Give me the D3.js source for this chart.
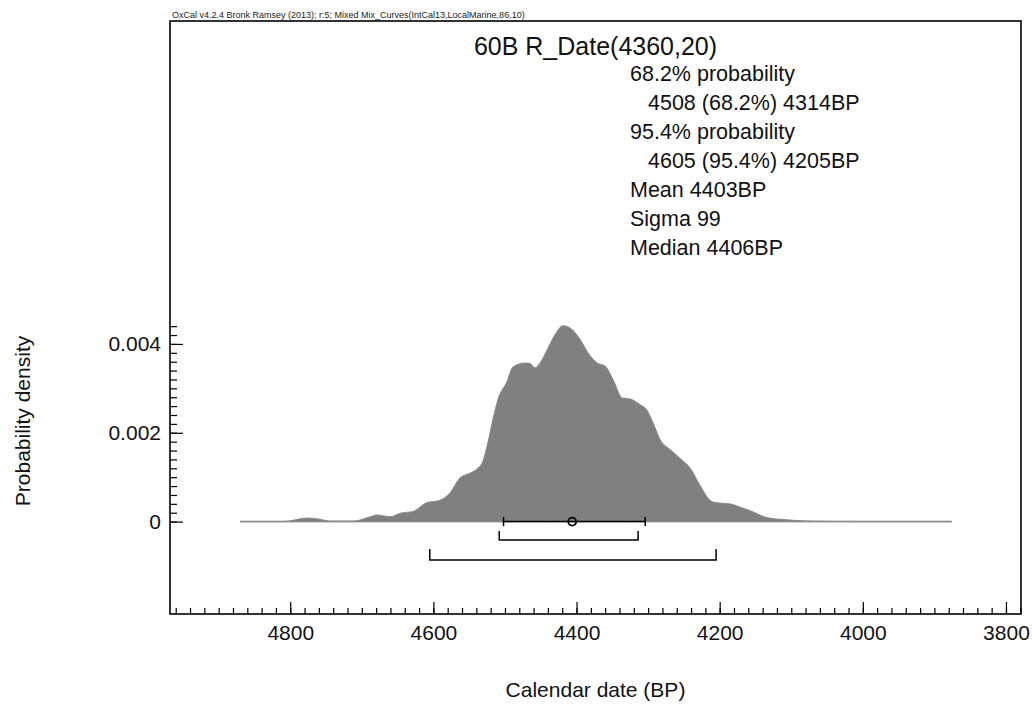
<!DOCTYPE html>
<html>
<head>
<meta charset="utf-8">
<script src="https://cdn.jsdelivr.net/npm/d3@7"></script>
<style>
  html, body { margin: 0; padding: 0; background: #fff; }
  svg { display: block; font-family: "Liberation Sans", Arial, Helvetica, sans-serif; }
</style>
</head>
<body>
<svg id="chart" width="1032" height="707"></svg>
<script>
// ---------- data ----------
const years = [4870, 4810, 4776, 4761, 4744, 4712, 4688, 4679, 4660, 4646, 4628, 4609, 4593, 4577, 4563, 4549, 4538, 4531, 4524, 4517, 4510, 4497, 4489, 4472, 4465, 4458, 4451, 4441, 4430, 4419, 4409, 4395, 4384, 4371, 4360, 4349, 4336, 4325, 4311, 4302, 4293, 4283, 4269, 4253, 4241, 4228, 4214, 4207, 4186, 4167, 4158, 4134, 4106, 4070, 4000, 3876];
const density = [0, 0, 0.00008, 0.00006, 0.00001, 0.00001, 0.00011, 0.00015, 0.00011, 0.00019, 0.00023, 0.00043, 0.00047, 0.00064, 0.00098, 0.00109, 0.00120, 0.00135, 0.00177, 0.00229, 0.00274, 0.00316, 0.00348, 0.00357, 0.00356, 0.00346, 0.00357, 0.00387, 0.00421, 0.00441, 0.00436, 0.00410, 0.00380, 0.00357, 0.00350, 0.00320, 0.00278, 0.00276, 0.00263, 0.00252, 0.00222, 0.00184, 0.00162, 0.00139, 0.00120, 0.00083, 0.00049, 0.00043, 0.00040, 0.00030, 0.00025, 0.00009, 0.00004, 0.00001, 0, 0];

const range68 = [4508, 4314];
const range95 = [4605, 4205];
const meanBP = 4403;
const sigma = 99;
const medianBP = 4406;

const xMajorTicks = [4800, 4600, 4400, 4200, 4000, 3800];
const yMajorTicks = [0, 0.002, 0.004];
const yTickLabels = ["0", "0.002", "0.004"];

const headerText = "OxCal v4.2.4 Bronk Ramsey (2013); r:5; Mixed Mix_Curves(IntCal13,LocalMarine,86,10)";
const titleText = "60B R_Date(4360,20)";
const statLines = ["68.2% probability", "4508 (68.2%) 4314BP", "95.4% probability", "4605 (95.4%) 4205BP", "Mean 4403BP", "Sigma 99", "Median 4406BP"];
const statIndent = [false, true, false, true, false, false, false];
const xLabel = "Calendar date (BP)";
const yLabel = "Probability density";

// ---------- layout ----------
const L = 170, R = 1021, T = 21, B = 614;
const FS = 21;
const svg = d3.select("#chart");

const x = d3.scaleLinear().domain([4968, 3779]).range([L, R]);
const y = d3.scaleLinear().domain([-0.00208, 0.01127]).range([B, T]);

const pts = years.map((yr, i) => ({ yr, d: density[i] }));

// baseline of the distribution
svg.append("line")
  .attr("x1", x(years[0])).attr("x2", x(years[years.length - 1]))
  .attr("y1", y(0)).attr("y2", y(0))
  .attr("stroke", "#6e6e6e").attr("stroke-width", 1.5);

// area
const area = d3.area()
  .x(p => x(p.yr)).y0(y(0)).y1(p => y(p.d))
  .curve(d3.curveMonotoneX);
svg.append("path").datum(pts)
  .attr("d", area)
  .attr("fill", "#808080")
  .attr("stroke", "#8a8a8a").attr("stroke-width", 1);

// mean ± sigma line
const gBr = svg.append("g").attr("stroke", "#000").attr("stroke-width", 1.5).attr("fill", "none");
const y0 = y(0);
gBr.append("line").attr("x1", x(meanBP + sigma)).attr("x2", x(meanBP - sigma)).attr("y1", y0).attr("y2", y0);
[meanBP + sigma, meanBP - sigma].forEach(v => {
  gBr.append("line").attr("x1", x(v)).attr("x2", x(v)).attr("y1", y0 - 4.5).attr("y2", y0 + 4.5);
});
gBr.append("circle").attr("cx", x(medianBP)).attr("cy", y0).attr("r", 4).attr("stroke-width", 1.8);

// 68.2% bracket
const y68 = y0 + 18.5;
gBr.append("path").attr("d",
  `M${x(range68[0])},${y68 - 9}V${y68}H${x(range68[1])}V${y68 - 9}`);
// 95.4% bracket
const y95 = y0 + 38.5;
gBr.append("path").attr("d",
  `M${x(range95[0])},${y95 - 11}V${y95}H${x(range95[1])}V${y95 - 11}`);

// ---------- axes ----------
const xMinor = d3.range(4960, 3779, -20);
svg.append("g").attr("transform", `translate(0,${B})`)
  .call(d3.axisBottom(x).tickValues(xMinor).tickSizeInner(-6).tickSizeOuter(0).tickFormat(""))
  .call(g => g.select(".domain").remove());
svg.append("g").attr("class", "xaxis").attr("transform", `translate(0,${B})`)
  .call(d3.axisBottom(x).tickValues(xMajorTicks).tickSizeInner(-12).tickSizeOuter(0).tickPadding(11).tickFormat(d => String(d)))
  .call(g => g.select(".domain").remove());

const yMinor = d3.range(0, 0.00441, 0.0002);
svg.append("g").attr("transform", `translate(${L},0)`)
  .call(d3.axisLeft(y).tickValues(yMinor).tickSizeInner(-7).tickSizeOuter(0).tickFormat(""))
  .call(g => g.select(".domain").remove());
svg.append("g").attr("class", "yaxis").attr("transform", `translate(${L},0)`)
  .call(d3.axisLeft(y).tickValues(yMajorTicks).tickSizeInner(-13).tickSizeOuter(0).tickPadding(9)
    .tickFormat((d, i) => yTickLabels[i]))
  .call(g => g.select(".domain").remove());

svg.selectAll(".tick line").attr("stroke", "#000").attr("stroke-width", 1.2);
svg.selectAll(".xaxis text, .yaxis text")
  .attr("font-size", FS).attr("fill", "#111")
  .attr("font-family", "Liberation Sans, Arial, sans-serif");

// frame
svg.append("rect").attr("x", L).attr("y", T).attr("width", R - L).attr("height", B - T)
  .attr("fill", "none").attr("stroke", "#000").attr("stroke-width", 1.6);

// ---------- texts ----------
svg.append("text").attr("x", L + 2).attr("y", T - 3)
  .attr("font-size", 9).attr("fill", "#222").text(headerText);

svg.append("text").attr("x", (L + R) / 2).attr("y", 55)
  .attr("text-anchor", "middle").attr("font-size", 25).attr("fill", "#111").text(titleText);

statLines.forEach((s, i) => {
  svg.append("text")
    .attr("x", statIndent[i] ? 648 : 630)
    .attr("y", 81.4 + i * 28.9)
    .attr("font-size", 21.5).attr("fill", "#111").text(s);
});

svg.append("text").attr("x", (L + R) / 2).attr("y", 697)
  .attr("text-anchor", "middle").attr("font-size", FS).attr("fill", "#111").text(xLabel);

svg.append("text").attr("transform", "translate(30,421) rotate(-90)")
  .attr("text-anchor", "middle").attr("font-size", FS).attr("fill", "#111").text(yLabel);
</script>
</body>
</html>
